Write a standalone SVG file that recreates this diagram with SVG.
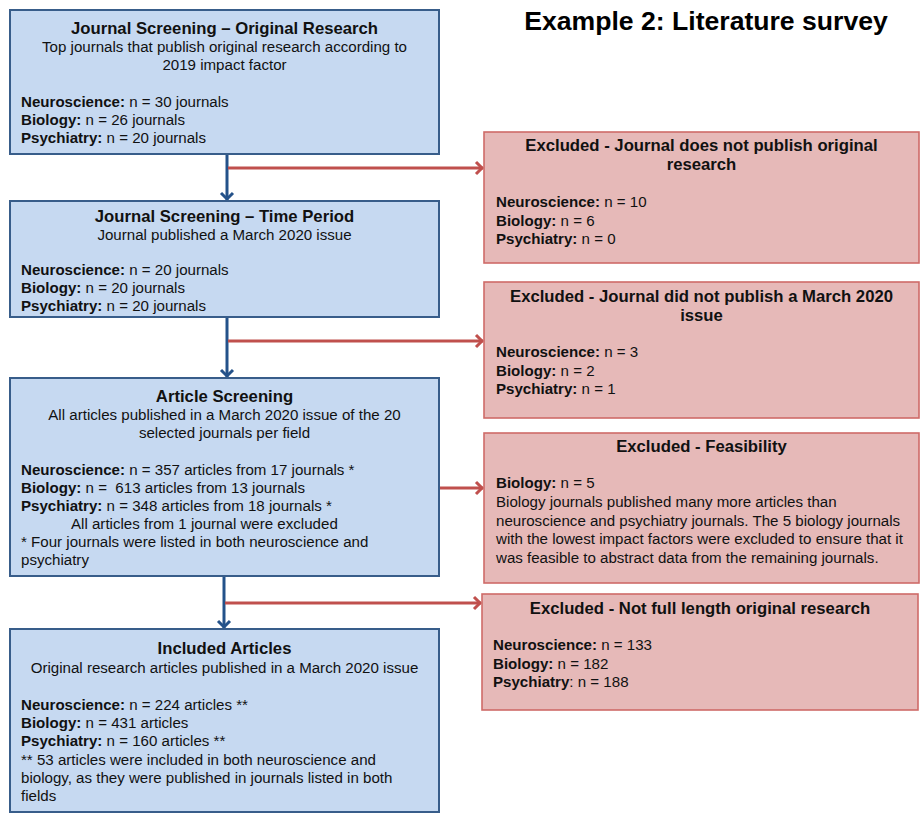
<svg xmlns="http://www.w3.org/2000/svg" width="920" height="819" viewBox="0 0 920 819">
<defs>
<style>
text{font-family:"Liberation Sans",Arial,sans-serif;fill:#111}
.t{font-size:16.7px;font-weight:bold;text-anchor:middle}
.s{font-size:15.1px;text-anchor:middle}
.b{font-size:15.1px}
.bb{font-weight:bold}
.blue{fill:#c6d9f1;stroke:#385d8a;stroke-width:2}
.red{fill:#e6b9b8;stroke:#cf6b68;stroke-width:1.6}
.cb{stroke:#24528a;stroke-width:3;fill:none}
.cr{stroke:#c0504d;stroke-width:3;fill:none}
</style>
<marker id="ab" viewBox="-10 -8 12 16" markerWidth="12" markerHeight="16" refX="0" refY="0" orient="auto" markerUnits="userSpaceOnUse">
<path d="M-7,-6 L-1,0 L-7,6" fill="none" stroke="#24528a" stroke-width="3"/>
</marker>
<marker id="ar" viewBox="-10 -8 12 16" markerWidth="12" markerHeight="16" refX="0" refY="0" orient="auto" markerUnits="userSpaceOnUse">
<path d="M-7,-6 L-1,0 L-7,6" fill="none" stroke="#c0504d" stroke-width="3"/>
</marker>
</defs>
<rect width="920" height="819" fill="#fff"/>
<text x="706" y="30" style="font-size:26.6px;font-weight:bold;text-anchor:middle;fill:#000">Example 2: Literature survey</text>

<g id="connectors">
<line class="cb" x1="227" y1="154" x2="227" y2="200" marker-end="url(#ab)"/>
<line class="cb" x1="227" y1="317" x2="227" y2="377" marker-end="url(#ab)"/>
<line class="cb" x1="224" y1="576" x2="224" y2="628" marker-end="url(#ab)"/>
<line class="cr" x1="228" y1="168" x2="483" y2="168" marker-end="url(#ar)"/>
<line class="cr" x1="228" y1="341" x2="483" y2="341" marker-end="url(#ar)"/>
<line class="cr" x1="319" y1="488" x2="483" y2="488" marker-end="url(#ar)"/>
<line class="cr" x1="225" y1="603" x2="481" y2="603" marker-end="url(#ar)"/>
</g>

<g id="journal-original">
<rect class="blue" x="10" y="10" width="429" height="144"/>
<text class="t" x="224.5" y="34">Journal Screening – Original Research</text>
<text class="s" x="224.5" y="52">Top journals that publish original research according to</text>
<text class="s" x="224.5" y="70">2019 impact factor</text>
<text class="b" x="21" y="107"><tspan class="bb">Neuroscience:</tspan> n = 30 journals</text>
<text class="b" x="21" y="125"><tspan class="bb">Biology:</tspan> n = 26 journals</text>
<text class="b" x="21" y="143"><tspan class="bb">Psychiatry:</tspan> n = 20 journals</text>
</g>

<g id="journal-time">
<rect class="blue" x="10" y="201" width="429" height="116"/>
<text class="t" x="224.5" y="222">Journal Screening – Time Period</text>
<text class="s" x="224.5" y="239.5">Journal published a March 2020 issue</text>
<text class="b" x="21" y="275"><tspan class="bb">Neuroscience:</tspan> n = 20 journals</text>
<text class="b" x="21" y="293"><tspan class="bb">Biology:</tspan> n = 20 journals</text>
<text class="b" x="21" y="311"><tspan class="bb">Psychiatry:</tspan> n = 20 journals</text>
</g>

<g id="article-screening">
<rect class="blue" x="10" y="378" width="429" height="198"/>
<text class="t" x="224.5" y="402">Article Screening</text>
<text class="s" x="224.5" y="420">All articles published in a March 2020 issue of the 20</text>
<text class="s" x="224.5" y="438">selected journals per field</text>
<text class="b" x="21" y="475"><tspan class="bb">Neuroscience:</tspan> n = 357 articles from 17 journals *</text>
<text class="b" x="21" y="493" xml:space="preserve"><tspan class="bb">Biology:</tspan> n =  613 articles from 13 journals</text>
<text class="b" x="21" y="511"><tspan class="bb">Psychiatry:</tspan> n = 348 articles from 18 journals *</text>
<text class="b" x="71" y="529">All articles from 1 journal were excluded</text>
<text class="b" x="21" y="547">* Four journals were listed in both neuroscience and</text>
<text class="b" x="21" y="565">psychiatry</text>
</g>

<g id="included-articles">
<rect class="blue" x="10" y="629" width="429" height="183"/>
<text class="t" x="224.5" y="654">Included Articles</text>
<text class="s" x="224.5" y="673">Original research articles published in a March 2020 issue</text>
<text class="b" x="21" y="710"><tspan class="bb">Neuroscience:</tspan> n = 224 articles **</text>
<text class="b" x="21" y="728"><tspan class="bb">Biology:</tspan> n = 431 articles</text>
<text class="b" x="21" y="746"><tspan class="bb">Psychiatry:</tspan> n = 160 articles **</text>
<text class="b" x="21" y="765">** 53 articles were included in both neuroscience and</text>
<text class="b" x="21" y="783">biology, as they were published in journals listed in both</text>
<text class="b" x="21" y="801">fields</text>
</g>

<g id="excluded-original">
<rect class="red" x="484" y="132" width="435" height="131"/>
<text class="t" x="701.5" y="151">Excluded - Journal does not publish original</text>
<text class="t" x="701.5" y="170">research</text>
<text class="b" x="496" y="207"><tspan class="bb">Neuroscience:</tspan> n = 10</text>
<text class="b" x="496" y="225.5"><tspan class="bb">Biology:</tspan> n = 6</text>
<text class="b" x="496" y="244"><tspan class="bb">Psychiatry:</tspan> n = 0</text>
</g>

<g id="excluded-march">
<rect class="red" x="484" y="282" width="435" height="136"/>
<text class="t" x="701.5" y="301.5">Excluded - Journal did not publish a March 2020</text>
<text class="t" x="701.5" y="320.5">issue</text>
<text class="b" x="496" y="357"><tspan class="bb">Neuroscience:</tspan> n = 3</text>
<text class="b" x="496" y="375.5"><tspan class="bb">Biology:</tspan> n = 2</text>
<text class="b" x="496" y="393.5"><tspan class="bb">Psychiatry:</tspan> n = 1</text>
</g>

<g id="excluded-feasibility">
<rect class="red" x="484" y="433" width="435" height="150"/>
<text class="t" x="701.5" y="451.5">Excluded - Feasibility</text>
<text class="b" x="496" y="488"><tspan class="bb">Biology:</tspan> n = 5</text>
<text class="b" x="496" y="507">Biology journals published many more articles than</text>
<text class="b" x="496" y="525.5">neuroscience and psychiatry journals. The 5 biology journals</text>
<text class="b" x="496" y="544">with the lowest impact factors were excluded to ensure that it</text>
<text class="b" x="496" y="562.5">was feasible to abstract data from the remaining journals.</text>
</g>

<g id="excluded-length">
<rect class="red" x="482" y="594" width="436" height="116"/>
<text class="t" x="700" y="614">Excluded - Not full length original research</text>
<text class="b" x="493" y="650"><tspan class="bb">Neuroscience:</tspan> n = 133</text>
<text class="b" x="493" y="668.5"><tspan class="bb">Biology:</tspan> n = 182</text>
<text class="b" x="493" y="687"><tspan class="bb">Psychiatry</tspan>: n = 188</text>
</g>
</svg>
